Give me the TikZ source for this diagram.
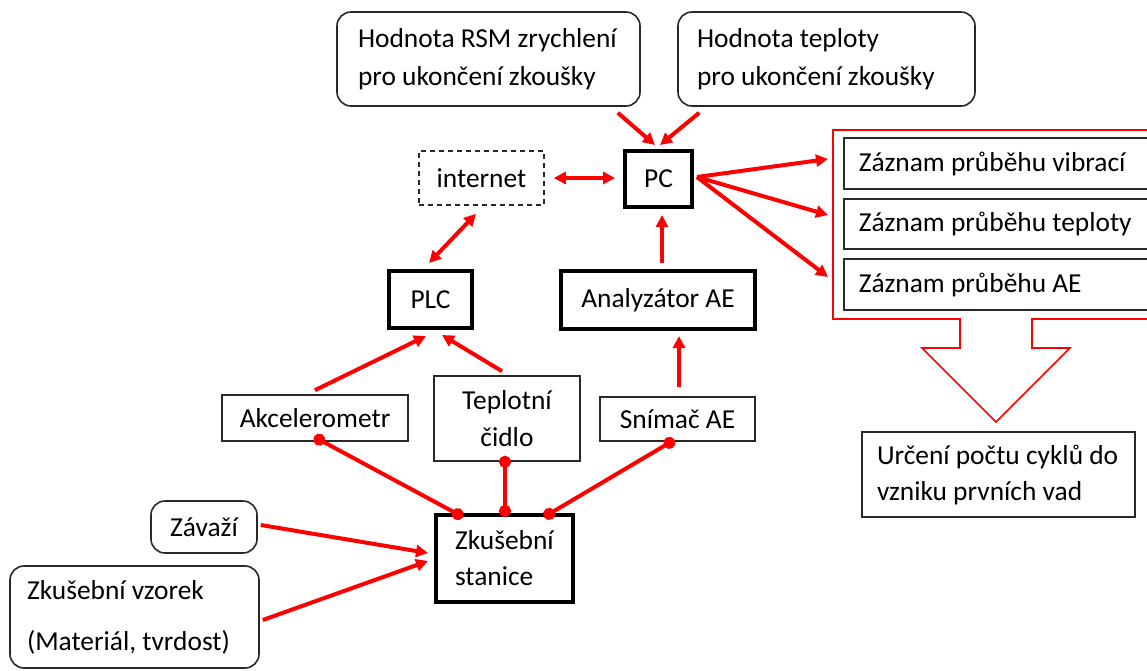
\documentclass[tikz,border=0pt]{standalone}
\usepackage{fontspec}
\setmainfont{Carlito}
\usetikzlibrary{arrows.meta}
\definecolor{lnred}{RGB}{255,0,0}
\definecolor{bxgray}{RGB}{40,40,40}
\begin{document}
\begin{tikzpicture}[x=0.5pt,y=-0.5pt,
  font=\fontsize{13.7}{19}\selectfont,
  thinbox/.style={draw=bxgray, line width=0.8pt, inner sep=0pt},
  thickbox/.style={draw=black, line width=2pt, inner sep=0pt},
  roundbox/.style={draw=bxgray, line width=0.8pt, rounded corners=7pt, inner ysep=0pt},
  arr/.style={draw=lnred, line width=2pt, -{Triangle[length=6pt,width=6pt]}},
  darr/.style={draw=lnred, line width=2pt, {Triangle[length=6pt,width=6pt]}-{Triangle[length=6pt,width=6pt]}},
  dotline/.style={draw=lnred, line width=2pt, {Circle[length=6pt]}-{Circle[length=6pt]}}
]
\useasboundingbox (0,0) rectangle (1147,670);
\clip (0,0) rectangle (1147,670);
\fill[white] (0,0) rectangle (1147,670);

% top rounded boxes
\node[roundbox, text width=130.5pt, inner xsep=10.5pt, minimum height=47pt, align=flush left] (rsm) at (488.5,59)
  {Hodnota RSM zrychlení\\pro ukončení zkoušky};
\node[roundbox, text width=129.5pt, inner xsep=9.5pt, minimum height=47pt, align=flush left] (tep) at (826.5,59)
  {Hodnota teploty\\pro ukončení zkoušky};

% PC and internet
\node[thickbox, minimum width=33.5pt, minimum height=28pt] (pc) at (658.5,179) {PC};
\node[draw=bxgray, line width=0.8pt, dash pattern=on 2.5pt off 2pt, inner sep=0pt,
      minimum width=62.5pt, minimum height=27pt] (inet) at (481.5,178) {internet};

% PLC, analyzer
\node[thickbox, minimum width=41.5pt, minimum height=28.5pt] (plc) at (430.5,299.5) {PLC};
\node[thickbox, minimum width=97pt, minimum height=29pt] (ana) at (658,300) {Analyzátor AE};

% sensors
\node[thinbox, minimum width=93pt, minimum height=23pt] (akc) at (315,418) {Akcelerometr};
\node[thinbox, minimum width=73pt, minimum height=42.5pt, align=center,
      font=\fontsize{13.7}{18.5}\selectfont] (tcid) at (507,418.5) {Teplotní\\čidlo};
\node[thinbox, minimum width=77.5pt, minimum height=22pt] (snim) at (677.5,419) {Snímač AE};

% test station
\node[thickbox, text width=49.5pt, inner xsep=9.5pt, minimum height=43.5pt, align=flush left,
      font=\fontsize{13.7}{18}\selectfont] (zst) at (504.5,558.5) {Zkušební\\stanice};
\node[roundbox, minimum width=53pt, minimum height=26pt, inner xsep=0pt] (zav) at (204,527) {Závaží};
\node[roundbox, text width=107.5pt, inner xsep=8.5pt, minimum height=51pt, align=flush left,
      font=\fontsize{13.7}{25.5}\selectfont] (vzo) at (134.5,617) {Zkušební vzorek\\(Materiál, tvrdost)};

% record callout outline
\draw[draw=lnred, line width=0.8pt] (1160,130) -- (833,130) -- (833,319) -- (960,319) -- (960,348)
  -- (922,348) -- (996,422) -- (1070,348) -- (1032,348) -- (1032,319) -- (1160,319);

% record boxes
\node[thinbox, anchor=west, text width=143.5pt, inner xsep=7.5pt, minimum height=25.5pt, align=flush left] (rec1) at (843,163.5) {Záznam průběhu vibrací};
\node[thinbox, anchor=west, text width=143.5pt, inner xsep=7.5pt, minimum height=25pt, align=flush left] (rec2) at (843,224) {Záznam průběhu teploty};
\node[thinbox, anchor=west, text width=143.5pt, inner xsep=7.5pt, minimum height=25.5pt, align=flush left] (rec3) at (843,284.5) {Záznam průběhu AE};

% result box
\node[thinbox, text width=121.5pt, inner xsep=7.5pt, minimum height=42.5pt, align=flush left,
      font=\fontsize{13.7}{18}\selectfont] (urc) at (998.5,474.5) {Určení počtu cyklů do\\vzniku prvních vad};

% connectors
\draw[arr] ([shift={(-23,6)}]rsm.south east) -- ([shift={(-3.5,-4)}]pc.north);
\draw[arr] ([shift={(22,6)}]tep.south west) -- ([shift={(1.5,-4)}]pc.north);
\draw[darr] ([shift={(9,0)}]inet.east) -- ([shift={(-8,-1)}]pc.west);
\draw[arr] ([shift={(3,-2)}]pc.east) -- ([shift={(-15,-4.5)}]rec1.west);
\draw[arr] ([shift={(3,-2)}]pc.east) -- ([shift={(-15,-9)}]rec2.west);
\draw[arr] ([shift={(3,-2)}]pc.east) -- ([shift={(-15,-7.5)}]rec3.west);
\draw[darr] ([shift={(-5.5,8)}]inet.south) -- ([shift={(-1.5,-6)}]plc.north);
\draw[arr] ([shift={(4,-6)}]ana.north) -- ([shift={(3.5,6)}]pc.south);
\draw[arr] ([shift={(0,-4)}]akc.north) -- ([shift={(-4.5,6)}]plc.south);
\draw[arr] ([shift={(-5,-4)}]tcid.north) -- ([shift={(11.5,5)}]plc.south);
\draw[arr] ([shift={(1.5,-9)}]snim.north) -- ([shift={(21,5)}]ana.south);
\draw[dotline] ([shift={(-1,-5)}]akc.south) -- ([shift={(-41.5,4)}]zst.north);
\draw[dotline] ([shift={(-2,-6)}]tcid.south) -- ([shift={(0.5,4)}]zst.north);
\draw[dotline] ([shift={(-3,-2)}]snim.south) -- ([shift={(39.5,4)}]zst.north);
\draw[arr] ([shift={(3,-2)}]zav.east) -- ([shift={(-6,-5.5)}]zst.west);
\draw[arr] ([shift={(3,3)}]vzo.east) -- ([shift={(-6,2.5)}]zst.west);
\end{tikzpicture}
\end{document}
